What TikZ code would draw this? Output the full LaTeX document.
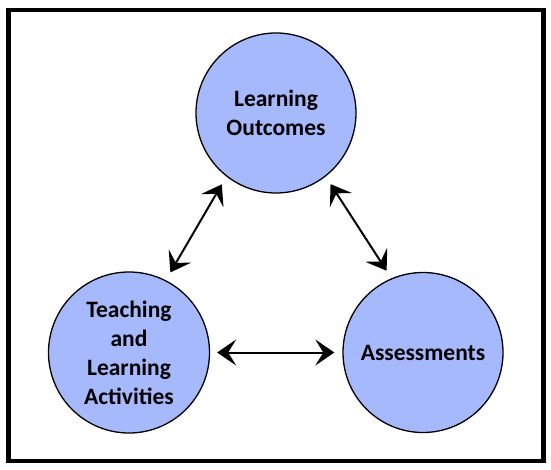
\documentclass[tikz,border=0pt]{standalone}
\usepackage{fontspec}
\setmainfont{Carlito}
\usetikzlibrary{arrows.meta}
\definecolor{circfill}{RGB}{165,185,252}
\tikzset{
  topic/.style={circle, draw=black, line width=1.3pt, fill=circfill,
    minimum size=160pt, inner sep=0pt, align=center,
    font=\fontsize{23.5}{29}\selectfont\bfseries},
  link/.style={line width=2pt, {Stealth[length=19pt,width=26pt,inset=8pt]}-{Stealth[length=19pt,width=26pt,inset=8pt]}}
}
\begin{document}
\begin{tikzpicture}[x=1pt,y=-1pt]
\useasboundingbox (0,0) rectangle (551,470);
\fill[white] (0,0) rectangle (551,470);
\draw[line width=4.5pt] (8.5,10) rectangle (543.5,461);
\node[topic] (lo) at (276,113) {Learning\\Outcomes};
\node[topic, minimum size=161pt] (tla) at (129,352.5) {Teaching\\and\\Learning\\Activities};
\node[topic] (as) at (423,352.5) {Assessments};
\draw[link, shorten <=9pt, shorten >=9pt] (lo.232) -- (tla.63);
\draw[link, shorten <=9pt, shorten >=9pt] (lo.308.7) -- (as.113);
\draw[link, shorten <=7pt, shorten >=8pt] (tla.east) -- (as.west);
\end{tikzpicture}
\end{document}
